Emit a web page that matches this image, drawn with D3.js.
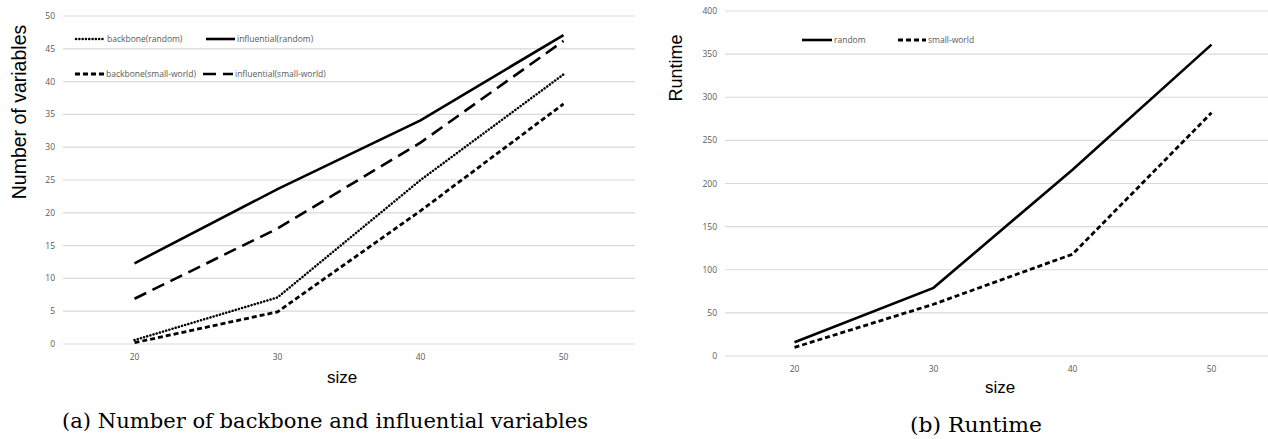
<!DOCTYPE html>
<html>

<head>
    <meta charset='utf-8'>
    <title>Backbone and runtime</title>
    <script src='https://d3js.org/d3.v7.min.js'></script>
    <style>
        body { margin: 0; background: #fff; }
    </style>
</head>

<body>
    <script>
        // data
        const sizes = ['20', '30', '40', '50'];

        const backboneRandom = [0.6, 7.1, 25.0, 41.1];
        const influentialRandom = [12.3, 23.6, 34.1, 47.1];
        const backboneSmallWorld = [0.2, 4.9, 20.3, 36.6];
        const influentialSmallWorld = [6.9, 17.6, 30.7, 46.2];

        const runtimeRandom = [16, 79, 216, 361];
        const runtimeSmallWorld = [10, 60, 118, 282];

        const leftTicks = [0, 5, 10, 15, 20, 25, 30, 35, 40, 45, 50];
        const rightTicks = [0, 50, 100, 150, 200, 250, 300, 350, 400];

        const W = 1268, H = 439;

        const svg = d3.select('body')
            .append('svg')
            .attr('width', W)
            .attr('height', H);

        const tickFont = "'Open Sans', 'DejaVu Sans', sans-serif";
        const titleFont = "'Liberation Sans', Arial, sans-serif";
        const capFont = "'DejaVu Serif', serif";

        // line styles
        const styles = {
            dotted: { width: 2.5, dash: '0.1 3.2', cap: 'round' },
            solid: { width: 2.6, dash: null, cap: 'butt' },
            short: { width: 2.8, dash: '5 3', cap: 'butt' },
            long: { width: 2.6, dash: '13 7', cap: 'butt' }
        };

        function drawPanel(opt) {
            const g = svg.append('g');

            const x = d3.scaleBand()
                .domain(sizes)
                .range(opt.xRange);

            const y = d3.scaleLinear()
                .domain(opt.yDomain)
                .range(opt.yRange);

            // gridlines
            g.selectAll('.grid')
                .data(opt.ticks)
                .enter()
                .append('line')
                .attr('x1', opt.xRange[0])
                .attr('x2', opt.xRange[1])
                .attr('y1', d => y(d))
                .attr('y2', d => y(d))
                .attr('stroke', '#d9d9d9')
                .attr('stroke-width', 1.2);

            // y tick labels
            g.selectAll('.ytick')
                .data(opt.ticks)
                .enter()
                .append('text')
                .attr('x', opt.xRange[0] - 8)
                .attr('y', d => y(d) + 3)
                .attr('text-anchor', 'end')
                .attr('font-family', tickFont)
                .attr('font-size', '8.5px')
                .attr('fill', '#595959')
                .text(d => d);

            // x tick labels
            g.selectAll('.xtick')
                .data(sizes)
                .enter()
                .append('text')
                .attr('x', d => x(d) + x.bandwidth() / 2)
                .attr('y', opt.xTickY)
                .attr('text-anchor', 'middle')
                .attr('font-family', tickFont)
                .attr('font-size', '8.5px')
                .attr('fill', '#595959')
                .text(d => d);

            const line = d3.line()
                .x((d, i) => x(sizes[i]) + x.bandwidth() / 2)
                .y(d => y(d));

            opt.series.forEach(s => {
                const st = styles[s.style];
                g.append('path')
                    .datum(s.values)
                    .attr('d', line)
                    .attr('fill', 'none')
                    .attr('stroke', '#000')
                    .attr('stroke-width', st.width)
                    .attr('stroke-linecap', st.cap)
                    .attr('stroke-dasharray', st.dash);

                // legend entry
                const lg = g.append('g').attr('transform', 'translate(' + s.lx + ',' + s.ly + ')');
                lg.append('line')
                    .attr('x1', 0)
                    .attr('x2', s.lw)
                    .attr('y1', 0)
                    .attr('y2', 0)
                    .attr('stroke', '#000')
                    .attr('stroke-width', st.width)
                    .attr('stroke-linecap', st.cap)
                    .attr('stroke-dasharray', st.dash);
                lg.append('text')
                    .attr('x', s.lw + 2)
                    .attr('y', 3)
                    .attr('font-family', tickFont)
                    .attr('font-size', '8.5px')
                    .attr('fill', '#595959')
                    .text(s.name);
            });

            // axis titles
            g.append('text')
                .attr('transform', 'translate(' + opt.yTitle[0] + ',' + opt.yTitle[1] + ') rotate(-90)')
                .attr('text-anchor', 'middle')
                .attr('font-family', titleFont)
                .attr('font-size', opt.yTitleSize)
                .attr('fill', '#000')
                .text(opt.yLabel);

            g.append('text')
                .attr('x', opt.xTitle[0])
                .attr('y', opt.xTitle[1])
                .attr('text-anchor', 'middle')
                .attr('font-family', titleFont)
                .attr('font-size', '17px')
                .attr('fill', '#000')
                .text('size');

            // caption
            g.append('text')
                .attr('x', opt.caption[0])
                .attr('y', opt.caption[1])
                .attr('font-family', capFont)
                .attr('font-size', '20px')
                .attr('fill', '#000')
                .attr('textLength', opt.caption[2])
                .attr('lengthAdjust', 'spacingAndGlyphs')
                .text(opt.captionText);
        }

        drawPanel({
            xRange: [63, 635],
            yDomain: [0, 50],
            yRange: [344, 16],
            ticks: leftTicks,
            xTickY: 360,
            yLabel: 'Number of variables',
            yTitleSize: '19.5px',
            yTitle: [26, 112],
            xTitle: [342, 383],
            caption: [62, 428, 526],
            captionText: '(a) Number of backbone and influential variables',
            series: [
                { name: 'backbone(random)', values: backboneRandom, style: 'dotted', lx: 76, ly: 39, lw: 29 },
                { name: 'influential(random)', values: influentialRandom, style: 'solid', lx: 206, ly: 39, lw: 29 },
                { name: 'backbone(small-world)', values: backboneSmallWorld, style: 'short', lx: 75, ly: 74, lw: 29 },
                { name: 'influential(small-world)', values: influentialSmallWorld, style: 'long', lx: 203, ly: 74, lw: 30 }
            ]
        });

        drawPanel({
            xRange: [725, 1281],
            yDomain: [0, 400],
            yRange: [356, 11],
            ticks: rightTicks,
            xTickY: 372,
            yLabel: 'Runtime',
            yTitleSize: '18px',
            yTitle: [682, 68],
            xTitle: [1000, 393],
            caption: [910, 432, 132],
            captionText: '(b) Runtime',
            series: [
                { name: 'random', values: runtimeRandom, style: 'solid', lx: 802, ly: 40, lw: 30 },
                { name: 'small-world', values: runtimeSmallWorld, style: 'short', lx: 898, ly: 40, lw: 28 }
            ]
        });
    </script>
</body>

</html>
